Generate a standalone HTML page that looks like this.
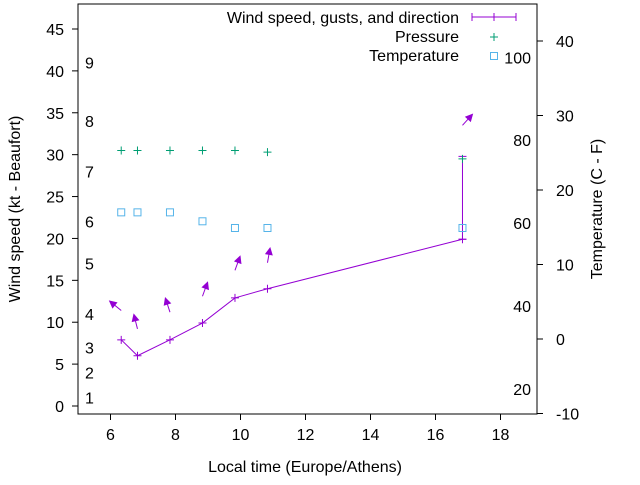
<!DOCTYPE html>
<html><head><meta charset="utf-8"><style>
body{margin:0;background:#fff}
svg{font-family:"Liberation Sans",sans-serif;font-size:16px}
</style></head><body>
<svg id="c" width="640" height="480" xmlns="http://www.w3.org/2000/svg"></svg>
<script>
const times=[6.33,6.83,7.83,8.83,9.83,10.83,16.83];
const windSpeed=[7.9,6,7.9,9.9,12.9,14,19.9];
const gustTop=[null,null,null,null,null,null,29.8];
const pressure=[30.5,30.5,30.5,30.5,30.5,30.3,29.5];
const temperature=[17,17,17,15.8,14.9,14.9,14.9];
const arrowLevel=[11.4,9.2,11.2,13.1,16.2,17.1,33.5];
const direction=[309,346,342,20,20,10,42];
const xTicks=[6,8,10,12,14,16,18];
const yTicks=[0,5,10,15,20,25,30,35,40,45];
const y2Ticks=[-10,0,10,20,30,40];
const beaufort=[[1,1],[2,4],[3,7],[4,11],[5,17],[6,22],[7,28],[8,34],[9,41]];
const fahr=[[20,-6.7],[40,4.4],[60,15.6],[80,26.7],[100,37.8]];
const L=78,R=537,T=4,B=414;
const X=v=>L+(v-5)*32.5;
const Y=v=>406-v*8.378;
const Y2=v=>339-v*7.45;
const svg=document.getElementById('c');
const NS='http://www.w3.org/2000/svg';
function mk(tag,attrs,name,txt){const e=document.createElementNS(NS,tag);for(const k in attrs)e.setAttribute(k,attrs[k]);


if(txt!==undefined)e.textContent=txt;svg.appendChild(e);return e;}
mk('rect',{x:L,y:T,width:R-L,height:B-T,fill:'none',stroke:'#000','stroke-width':1},'plot-border');
xTicks.forEach(t=>{mk('line',{x1:X(t),x2:X(t),y1:B,y2:B+6,stroke:'#000'},'x-tick');mk('text',{x:X(t),y:B+26,'text-anchor':'middle'},'x-tick-label',t);});
yTicks.forEach(t=>{mk('line',{x1:L-6,x2:L,y1:Y(t),y2:Y(t),stroke:'#000'},'y-tick');mk('text',{x:L-14,y:Y(t)+6,'text-anchor':'end'},'y-tick-label',t);});
y2Ticks.forEach(t=>{mk('line',{x1:R,x2:R+6,y1:Y2(t),y2:Y2(t),stroke:'#000'},'y2-tick');mk('text',{x:R+19,y:Y2(t)+6,'text-anchor':'start'},'y2-tick-label',t);});
beaufort.forEach(b=>mk('text',{x:85,y:406-b[1]*8.378+6},'beaufort-label',b[0]));
fahr.forEach(f=>mk('text',{x:531,y:Y2(f[1])+6,'text-anchor':'end'},'fahrenheit-label',f[0]));
mk('text',{x:305,y:472,'text-anchor':'middle'},'x-axis-title','Local time (Europe/Athens)');
mk('text',{x:0,y:0,'text-anchor':'middle',transform:'translate(20,209) rotate(-90)'},'y-axis-title','Wind speed (kt - Beaufort)');
mk('text',{x:0,y:0,'text-anchor':'middle',transform:'translate(602,209) rotate(-90)'},'y2-axis-title','Temperature (C - F)');
const P='#9400d3',G='#009e73',C='#56b4e9';
mk('polyline',{points:times.map((t,i)=>X(t)+','+Y(windSpeed[i])).join(' '),fill:'none',stroke:P},'wind-line');
times.forEach((t,i)=>{const x=X(t),y=Y(windSpeed[i]);
mk('path',{d:`M${x-4},${y}h8M${x},${y-4}v8`,stroke:P},'wind-point');
if(gustTop[i]!=null){const g=Y(gustTop[i]);mk('path',{d:`M${x},${y}V${g}M${x-4},${g}h8M${x-4},${y}h8`,stroke:P},'gust-bar');}
const a=direction[i]*Math.PI/180,bx=x,by=Y(arrowLevel[i]),len=14,hx=bx+Math.sin(a)*len,hy=by-Math.cos(a)*len;
mk('line',{x1:bx,y1:by,x2:hx,y2:hy,stroke:P},'direction-arrow');
const ux=Math.sin(a),uy=-Math.cos(a),px=-uy,py=ux;
mk('polygon',{points:`${hx+ux*2},${hy+uy*2} ${hx-ux*6+px*4},${hy-uy*6+py*4} ${hx-ux*6-px*4},${hy-uy*6-py*4}`,fill:P},'direction-arrowhead');
const py2=Y(pressure[i]);mk('path',{d:`M${x-4},${py2}h8M${x},${py2-4}v8`,stroke:G},'pressure-point');
const ty=Y2(temperature[i]);mk('rect',{x:x-3.5,y:ty-3.5,width:7,height:7,fill:'none',stroke:C},'temperature-point');
});
mk('text',{x:459,y:23,'text-anchor':'end'},'legend-wind-label','Wind speed, gusts, and direction');
mk('path',{d:'M472,17h44M472,13v8M516,13v8M494,13v8',stroke:P},'legend-wind-swatch');
mk('text',{x:459,y:42,'text-anchor':'end'},'legend-pressure-label','Pressure');
mk('path',{d:'M490,37h8M494,33v8',stroke:G},'legend-pressure-swatch');
mk('text',{x:459,y:61,'text-anchor':'end'},'legend-temperature-label','Temperature');
mk('rect',{x:490.5,y:52.5,width:7,height:7,fill:'none',stroke:C},'legend-temperature-swatch');
</script>
</body></html>
